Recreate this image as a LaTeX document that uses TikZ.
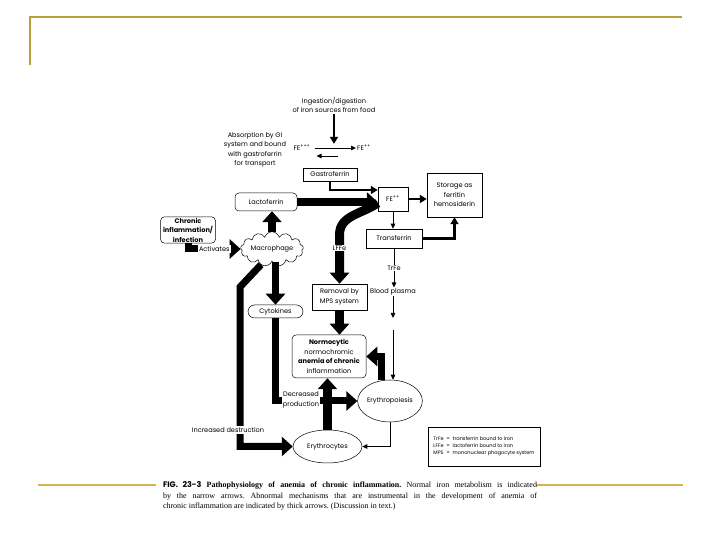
\documentclass[tikz,border=0pt]{standalone}
\usepackage{fontspec}
\setmainfont{Liberation Serif}
\newfontfamily\diagfont{Poppins}
\usepackage{tikz}
\usetikzlibrary{arrows.meta,calc,positioning,shapes.geometric,shapes.symbols}
\definecolor{SlideGold}{HTML}{B9A03E}
\definecolor{SlideGoldLight}{HTML}{D3B353}
\newcommand\diagsize{\diagfont\fontsize{6.6}{9.5}\selectfont}
\tikzset{
  box/.style={draw, line width=0.5pt, fill=white, inner sep=1pt, align=center, font=\diagsize},
  roundbox/.style={box, rounded corners=4pt},
  ovalbox/.style={box, ellipse, inner sep=0pt},
  lbl/.style={font=\diagsize, align=center, inner sep=1pt},
  onlbl/.style={lbl, fill=white},
  thinarrow/.style={line width=0.7pt, -{Triangle[length=5pt,width=4.5pt]}},
  midarrow/.style={line width=2.6pt, -{Triangle[length=7pt,width=8pt]}},
  fatarrow/.style={line width=8pt, -{Triangle[length=11pt,width=19pt]}}
}

\begin{document}
\begin{tikzpicture}[x=1pt,y=1pt]
  \useasboundingbox (0,0) rectangle (720,540);
  % slide frame
  \draw[SlideGold, line width=1.8pt] (30,475) -- (30,523) -- (682,523);
  \draw[SlideGoldLight, line width=1.8pt] (38,55) -- (156,55);
  \draw[SlideGoldLight, line width=1.8pt] (536,55) -- (683,55);

  % top: intake and absorption
  \node[lbl] (ingest) at (334,435) {Ingestion/digestion\\of iron sources from food};
  \node[lbl] (absorb) at (255,390) {Absorption by GI\\system and bound\\with gastroferrin\\for transport};
  \node[lbl] (fe3) at (302,392) {FE\textsuperscript{+++}};
  \node[lbl] (fe2l) at (364,392) {FE\textsuperscript{++}};
  \draw[midarrow] (ingest.south) -- (ingest.south |- fe3.north);
  \draw[thinarrow] ([xshift=3pt]fe3.east) -- (fe2l.west);
  \draw[thinarrow] ($(fe3.east)+(26,-8)$) -- ($(fe3.east)+(5,-8)$);

  % boxes
  \node[box, minimum width=54pt, minimum height=13pt] (gastro) at (330,365.5) {Gastroferrin};
  \node[box, minimum width=30pt, minimum height=24pt] (fe) at (393,341) {FE\textsuperscript{++}};
  \node[box, minimum width=55pt, minimum height=44pt] (storage) at (454.5,345) {Storage as\\ferritin\\hemosiderin};
  \node[roundbox, minimum width=62pt, minimum height=18pt] (lacto) at (266,338) {Lactoferrin};
  \node[roundbox, minimum width=55pt, minimum height=26pt, font=\diagsize\bfseries] (chronic) at (188,310) {Chronic\\inflammation/\\infection};
  \node[cloud, draw, line width=0.5pt, fill=white, cloud puffs=13, aspect=2.5, minimum width=55pt, minimum height=22pt, inner sep=0pt, font=\diagsize] (macro) at (272,291) {Macrophage};
  \node[box, minimum width=56pt, minimum height=19pt] (transf) at (394,301.5) {Transferrin};
  \node[box, minimum width=55pt, minimum height=26pt] (removal) at (339.5,243) {Removal by\\MPS system};
  \node[lbl] (blood) at (393,248) {Blood plasma};
  \node[roundbox, rounded corners=6.5pt, minimum width=55pt, minimum height=13pt] (cyto) at (275.5,228.5) {Cytokines};
  \node[roundbox, minimum width=74pt, minimum height=43pt] (normo) at (329,183.5) {\textbf{Normocytic}\\normochromic\\\textbf{anemia of chronic}\\inflammation};
  \node[ovalbox, minimum width=50pt, minimum height=42pt] (erythro) at (390,139) {Erythropoiesis};
  \node[ovalbox, minimum width=69pt, minimum height=33pt] (ery) at (327.5,93.5) {Erythrocytes};
  \coordinate (bp) at (393,222);
  \coordinate (ep) at (393,210);

  % normal iron metabolism (narrow arrows)
  \draw[midarrow] (gastro.south) |- ([yshift=9pt]fe.west);
  \draw[midarrow] (fe.east) -- (fe.east -| storage.west);
  \draw[thinarrow] (fe.south) -- (fe.south |- transf.north);
  \draw[midarrow] (transf.east) -| (storage.south);
  \draw[thinarrow] (transf.south) -- (transf.south |- blood.north) node[onlbl, midway] {TrFe};
  \draw[thinarrow] (blood.south) -- (bp);
  \draw[thinarrow] (ep) -- (ep |- erythro.north);
  \draw[thinarrow] (erythro.south) |- (ery.east);

  % abnormal mechanisms (thick arrows)
  \draw[fatarrow] (lacto.east) -- (lacto.east -| fe.west);
  \draw[fatarrow, line width=7pt] (chronic.south) |- (macro.west) node[onlbl, pos=0.75] {Activates};
  \draw[fatarrow] (macro.north) -- (macro.north |- lacto.south);
  \draw[fatarrow, line width=7pt] (cyto.north |- macro.south) -- (cyto.north);
  \draw[fatarrow, line width=9pt] ([yshift=-4pt]fe.west) to[out=215,in=90] ([yshift=49pt]removal.north) -- (removal.north);
  \node[onlbl] (lffe) at (339.5,292) {LFFe};
  \draw[fatarrow, line width=9pt] (removal.south) -- (removal.south |- normo.north);
  \draw[fatarrow, line width=7pt] (erythro.112) |- (normo.east);
  \draw[fatarrow, line width=7pt] (cyto.south) |- (erythro.west);
  \node[onlbl] (decr) at (301,140) {Decreased\\production};
  \draw[fatarrow, line width=9pt] (ery.north) -- (ery.north |- normo.south);
  \draw[fatarrow, line width=7pt] (macro.235) -- (240,253) |- (ery.west);
  \node[onlbl] (incr) at (228,110) {Increased destruction};

  % legend
  \node[box, minimum width=112pt, minimum height=39pt, font=\diagfont\fontsize{5}{7}\selectfont] (legend) at (484,93.5) {%
    \begin{tabular}{@{}l@{\ \ }c@{\ \ }l@{}}
      TrFe & = & transferrin bound to iron\\
      LFFe & = & lactoferrin bound to iron\\
      MPS & = & mononuclear phagocyte system
    \end{tabular}};

  % caption
  \node[text width=374pt, align=justify, inner sep=0pt, font=\fontsize{8}{10.5}\selectfont] (caption) at (350,44) {\tolerance=10000\frenchspacing
    {\diagfont\bfseries FIG. 23-3} \textbf{Pathophysiology of anemia of chronic inflammation.} Normal iron metabolism is indicated\linebreak
    by the narrow arrows. Abnormal mechanisms that are instrumental in the development of anemia of\linebreak
    chronic inflammation are indicated by thick arrows. (Discussion in text.)};
\end{tikzpicture}
\end{document}
